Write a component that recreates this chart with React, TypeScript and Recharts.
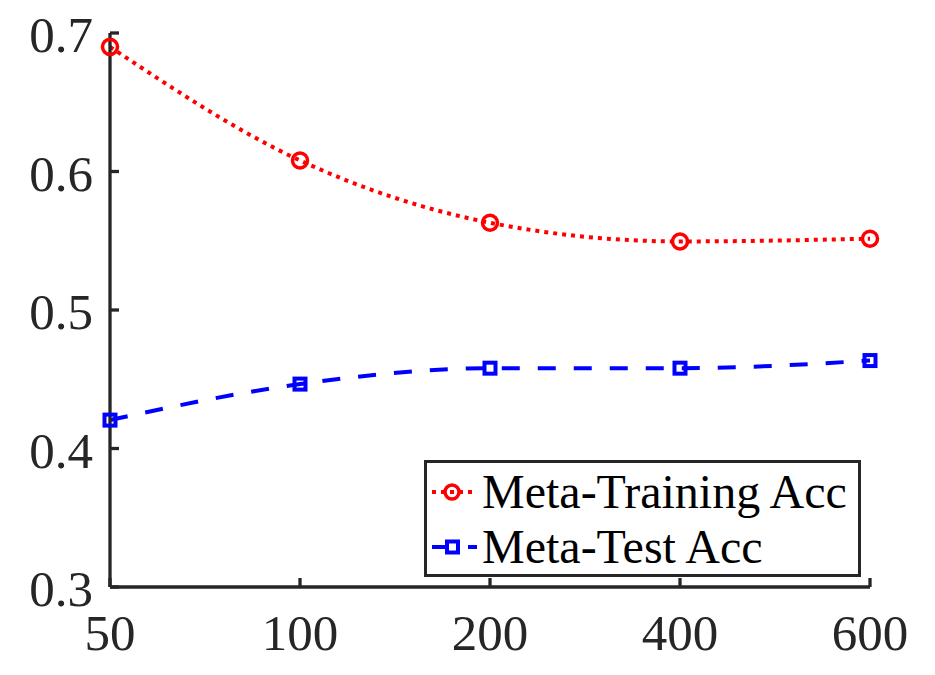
import React from "react";
import { LineChart, Line, XAxis, YAxis } from "recharts";

const SIZES = ["50", "100", "200", "400", "600"];
const TRAIN_ACC = [0.69, 0.608, 0.563, 0.5495, 0.5515];
const TEST_ACC = [0.4205, 0.4465, 0.458, 0.458, 0.4635];
const Y_TICKS = [0.3, 0.4, 0.5, 0.6, 0.7];

const AXIS = "#262626";
const RED = "#FF0000";
const BLUE = "#0000FF";
const FONT = "'Liberation Serif', 'Times New Roman', serif";

const data = SIZES.map((s, i) => ({ size: s, train: TRAIN_ACC[i], test: TEST_ACC[i] }));

function YTick(props: any) {
  const { x, y, payload } = props;
  return (
    <g>
      <line x1={x} x2={x + 9} y1={y} y2={y} stroke={AXIS} strokeWidth={3.3} />
      <text x={x - 17} y={y + 19} textAnchor="end" fontSize={51} fontFamily={FONT} fill={AXIS}>
        {Number(payload.value).toFixed(1)}
      </text>
    </g>
  );
}

function XTick(props: any) {
  const { x, y, payload } = props;
  return (
    <g>
      <line x1={x} x2={x} y1={y} y2={y - 9} stroke={AXIS} strokeWidth={3.3} />
      <text x={x} y={y + 63} textAnchor="middle" fontSize={51} fontFamily={FONT} fill={AXIS}>
        {payload.value}
      </text>
    </g>
  );
}

function CircleDot(props: any) {
  const { cx, cy, index } = props;
  return <circle key={"c" + index} cx={cx} cy={cy} r={7.5} fill="none" stroke={RED} strokeWidth={3.5} />;
}

function SquareDot(props: any) {
  const { cx, cy, index } = props;
  return (
    <rect key={"s" + index} x={cx - 5.5} y={cy - 5.5} width={11} height={11} fill="none" stroke={BLUE} strokeWidth={4} />
  );
}

function LegendBox() {
  return (
    <div
      style={{
        position: "absolute",
        left: 424,
        top: 460,
        width: 437,
        height: 117,
        boxSizing: "border-box",
        border: `3px solid ${AXIS}`,
        background: "#fff",
      }}
    >
      <svg width={431} height={111} style={{ display: "block" }}>
        <line x1={5} x2={45} y1={29} y2={29} stroke={RED} strokeWidth={4} strokeDasharray="4 5" />
        <circle cx={25} cy={29} r={7} fill="none" stroke={RED} strokeWidth={3.5} />
        <text x={55} y={45} fontSize={48} fontFamily={FONT} fill="#000">
          Meta-Training Acc
        </text>
        <line x1={5} x2={50} y1={84} y2={84} stroke={BLUE} strokeWidth={4} strokeDasharray="18 18" />
        <rect x={20} y={78.5} width={11} height={11} fill="#fff" stroke={BLUE} strokeWidth={4} />
        <text x={55} y={100} fontSize={48} fontFamily={FONT} fill="#000">
          Meta-Test Acc
        </text>
      </svg>
    </div>
  );
}

export default function App() {
  return (
    <div style={{ position: "absolute", left: 0, top: 0, width: 935, height: 675, background: "#fff" }}>
      <LineChart width={935} height={675} data={data} margin={{ top: 33, right: 65, bottom: 0, left: 0 }}>
        <XAxis
          dataKey="size"
          height={88}
          axisLine={{ stroke: AXIS, strokeWidth: 3.3 }}
          tickLine={false}
          tickSize={0}
          tickMargin={0}
          tick={<XTick />}
          interval={0}
        />
        <YAxis
          type="number"
          domain={[0.3, 0.7]}
          ticks={Y_TICKS}
          width={110}
          axisLine={{ stroke: AXIS, strokeWidth: 3.3 }}
          tickLine={false}
          tickSize={0}
          tickMargin={0}
          tick={<YTick />}
          interval={0}
        />
        <Line
          type="monotone"
          dataKey="train"
          name="Meta-Training Acc"
          stroke={RED}
          strokeWidth={4}
          strokeDasharray="4 5"
          dot={CircleDot}
          activeDot={false}
          isAnimationActive={false}
        />
        <Line
          type="monotone"
          dataKey="test"
          name="Meta-Test Acc"
          stroke={BLUE}
          strokeWidth={4}
          strokeDasharray="18 18"
          dot={SquareDot}
          activeDot={false}
          isAnimationActive={false}
        />
      </LineChart>
      <LegendBox />
    </div>
  );
}
